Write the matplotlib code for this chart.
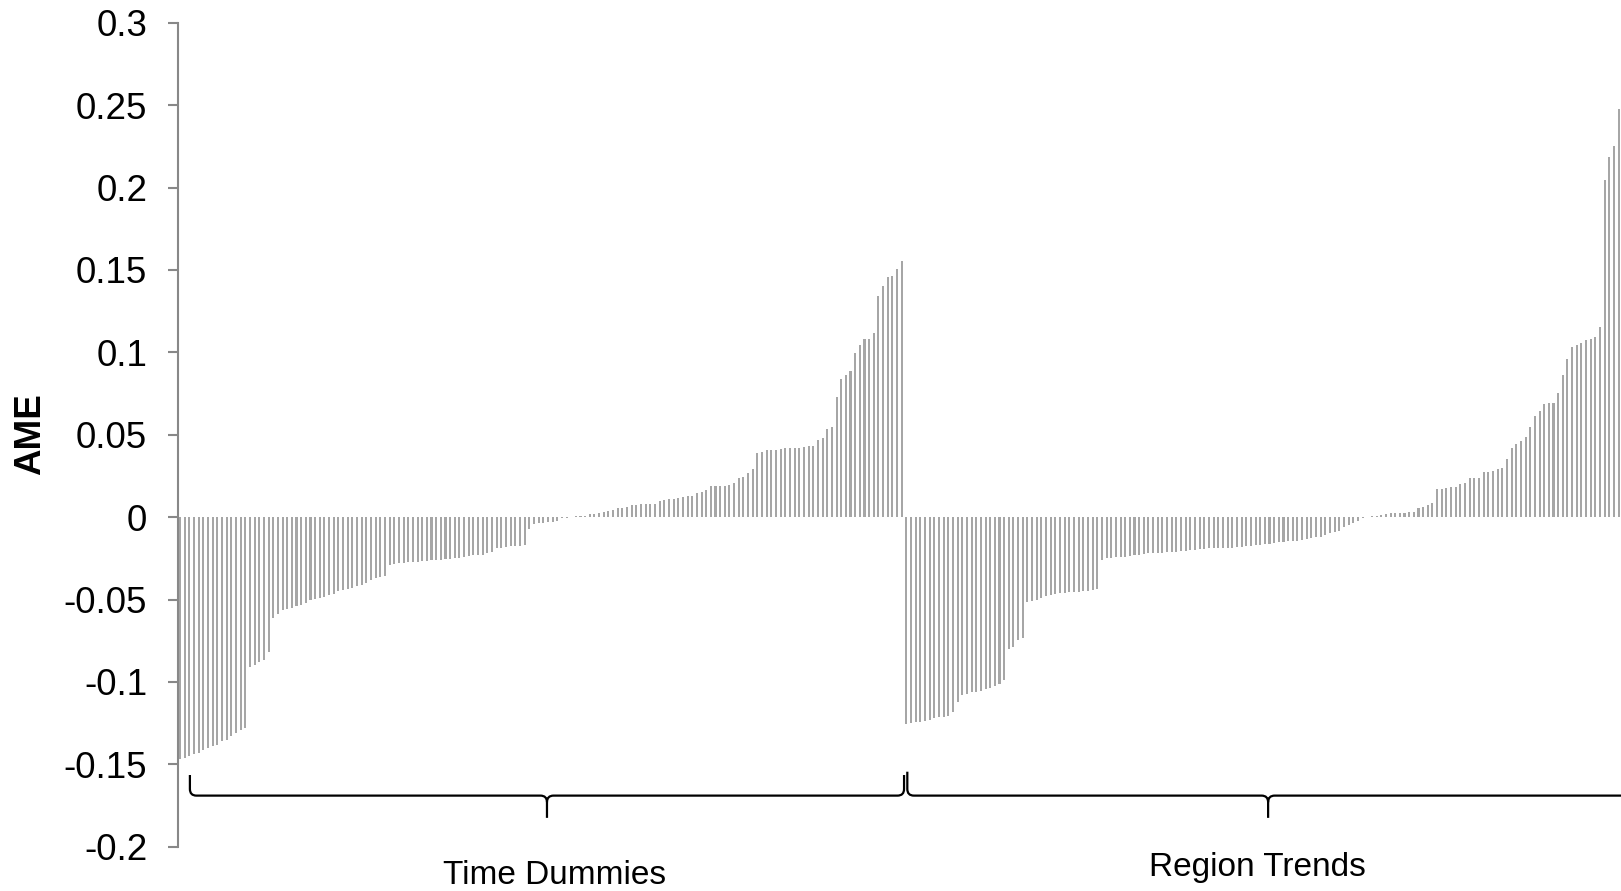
import matplotlib
matplotlib.use("Agg")
import matplotlib.pyplot as plt
from matplotlib.path import Path
from matplotlib.patches import PathPatch
import matplotlib.transforms as mtransforms

plt.rcParams['font.family'] = ['Liberation Sans', 'DejaVu Sans']

# ---------------- data ----------------
time_dummies = [
    -0.147, -0.146, -0.145, -0.144, -0.143, -0.1415, -0.140, -0.139, -0.138, -0.136,
    -0.135, -0.133, -0.131, -0.129, -0.128,
    -0.091, -0.090, -0.088, -0.087, -0.082,
    -0.061, -0.059, -0.0565, -0.0555, -0.055, -0.054, -0.0535, -0.052, -0.050, -0.0495,
    -0.049, -0.0485, -0.0475, -0.0465, -0.045, -0.0445, -0.0435, -0.043, -0.042, -0.041,
    -0.040, -0.038, -0.037, -0.0365, -0.036,
    -0.029, -0.0285, -0.028, -0.0278, -0.0275, -0.0273, -0.027, -0.0268, -0.0266, -0.0263,
    -0.026, -0.0258, -0.0255, -0.0252, -0.025, -0.0247, -0.0243, -0.0238, -0.0233, -0.023,
    -0.0228, -0.0215, -0.021, -0.0188, -0.0185, -0.018, -0.0176, -0.0175, -0.0173, -0.0171,
    -0.0075, -0.0042, -0.0038, -0.0035, -0.0032, -0.0029, -0.0024,
    -0.0005, -0.0003, 0.0003, 0.0005, 0.0006, 0.0008,
    0.0016, 0.0018, 0.0022, 0.0032, 0.0038, 0.0042, 0.0053, 0.0053, 0.0059, 0.0071,
    0.0073, 0.0077, 0.0079, 0.0079, 0.0081, 0.0099, 0.0103, 0.0107, 0.0109, 0.0113,
    0.0119, 0.0127, 0.0127, 0.0144, 0.0154, 0.0164, 0.0188, 0.0188, 0.0188, 0.0188,
    0.0192, 0.0204, 0.0235, 0.0242, 0.0269, 0.0289,
    0.039, 0.0394, 0.0405, 0.0407, 0.0407, 0.0411, 0.0417, 0.0417, 0.0417, 0.0419,
    0.0427, 0.0431, 0.0431, 0.0467, 0.0477, 0.0532, 0.0544, 0.0726, 0.0835, 0.0862,
    0.0886, 0.0993, 0.1042, 0.108, 0.108, 0.1117, 0.1341, 0.1402, 0.1456, 0.1462,
    0.1503, 0.1551,
]

region_trends = [
    -0.1256, -0.1252, -0.1246, -0.1242, -0.1238, -0.1232, -0.1218, -0.1214, -0.1212, -0.1205,
    -0.1181, -0.1121, -0.108, -0.1072, -0.1064, -0.106, -0.1054, -0.1044, -0.1036, -0.1023,
    -0.1015, -0.0989,
    -0.0801, -0.0787, -0.0746, -0.0736,
    -0.0518, -0.0508, -0.05, -0.0489, -0.0479, -0.0473, -0.0469, -0.0463, -0.0463, -0.0457,
    -0.0453, -0.0453, -0.0449, -0.0447, -0.0443, -0.0437,
    -0.0261, -0.0251, -0.0247, -0.0245, -0.0243, -0.0241, -0.0237, -0.0231, -0.0227, -0.0222,
    -0.022, -0.022, -0.0218, -0.0216, -0.0214, -0.021, -0.021, -0.0206, -0.0204, -0.02,
    -0.0198, -0.0196, -0.0194, -0.019, -0.019, -0.019, -0.0188, -0.0186, -0.0186, -0.0184,
    -0.018, -0.0178, -0.0176, -0.0172, -0.017, -0.0166, -0.0164, -0.016, -0.0154, -0.015,
    -0.0146, -0.0144, -0.0142, -0.0138, -0.0133, -0.0129, -0.0123, -0.0119, -0.0109, -0.0099,
    -0.0089, -0.0083, -0.0059, -0.0049, -0.0038, -0.0026,
    -0.0005, 0.0003, 0.0008, 0.0008, 0.001, 0.0016, 0.0022, 0.0022, 0.0022, 0.0026,
    0.0028, 0.0032, 0.0053, 0.0059, 0.0071, 0.0083, 0.0168, 0.017, 0.0174, 0.018,
    0.0184, 0.0198, 0.0208, 0.0235, 0.0235, 0.0239, 0.0273, 0.0275, 0.0281, 0.0289,
    0.0295, 0.0352, 0.0421, 0.0441, 0.0461, 0.0485, 0.0544, 0.0613, 0.0643, 0.0684,
    0.069, 0.069, 0.0756, 0.0862, 0.0959, 0.103, 0.1044, 0.1054, 0.1074, 0.1078,
    0.1094, 0.1155, 0.2045, 0.2186, 0.2251, 0.2476,
]

group_labels = ["Time Dummies", "Region Trends"]
y_ticks = [-0.2, -0.15, -0.1, -0.05, 0, 0.05, 0.1, 0.15, 0.2, 0.25, 0.3]
y_tick_labels = ["-0.2", "-0.15", "-0.1", "-0.05", "0", "0.05", "0.1", "0.15", "0.2", "0.25", "0.3"]
y_label = "AME"

# ---------------- figure ----------------
W, H = 1621, 891
fig = plt.figure(figsize=(W / 100, H / 100), dpi=100)
left = 177.8 / W
top = 1 - 22.7 / H
bottom = 1 - 846.7 / H
ax = fig.add_axes([left, bottom, 1 - left, top - bottom])

values = time_dummies + region_trends
n_td = len(time_dummies)
xs = list(range(len(values)))
ax.bar(xs, values, width=0.44, color="#A6A6A6", linewidth=0)

ax.set_xlim(-0.5, 309.5)
ax.set_ylim(-0.2, 0.3)
ax.set_yticks(y_ticks)
ax.set_yticklabels(y_tick_labels)
ax.set_xticks([])
for s in ["top", "right", "bottom"]:
    ax.spines[s].set_visible(False)
ax.spines["left"].set_color("#888888")
ax.spines["left"].set_linewidth(1.5)
ax.tick_params(axis="y", direction="out", length=7, width=1.5, color="#888888",
               labelsize=26.5, pad=15, labelcolor="black")


# ---------------- braces ----------------
def brace(x0, x1, y_hook, y_line, y_tip):
    tip = (x0 + x1) / 2
    rx = 1.4
    ry = 0.004
    verts = [
        (x0, y_hook), (x0, y_line + ry), (x0, y_line), (x0 + rx, y_line),
        (tip - rx, y_line), (tip, y_line), (tip, y_line - ry), (tip, y_tip),
        (tip, y_line - ry), (tip, y_line), (tip + rx, y_line),
        (x1 - rx, y_line), (x1, y_line), (x1, y_line + ry), (x1, y_hook),
    ]
    codes = [Path.MOVETO, Path.LINETO, Path.CURVE3, Path.CURVE3,
             Path.LINETO, Path.CURVE3, Path.CURVE3, Path.LINETO,
             Path.MOVETO, Path.CURVE3, Path.CURVE3,
             Path.LINETO, Path.CURVE3, Path.CURVE3, Path.LINETO]
    p = PathPatch(Path(verts, codes), fill=False, edgecolor="black", linewidth=1.6,
                  capstyle="butt", joinstyle="round")
    ax.add_patch(p)


brace(2.1, n_td - 0.5, -0.1565, -0.169, -0.1825)
brace(n_td + 0.2, n_td + 155.2, -0.1545, -0.169, -0.1825)

trans = mtransforms.blended_transform_factory(ax.transData, fig.transFigure)
fig.text(80.5, 1 - 884 / H, group_labels[0], transform=trans, ha="center", va="baseline",
         fontsize=24)
fig.text(231.3, 1 - 876 / H, group_labels[1], transform=trans, ha="center", va="baseline",
         fontsize=24)

fig.text(31 / W, 1 - 434 / H, y_label, rotation=90, ha="center", va="center",
         fontsize=26.5, fontweight="bold")

fig.savefig("out.png", dpi=100)
